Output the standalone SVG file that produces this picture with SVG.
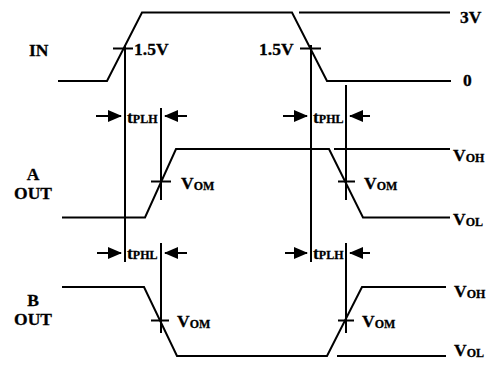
<svg xmlns="http://www.w3.org/2000/svg" width="494" height="365" viewBox="0 0 494 365">
<style>
.w{fill:none;stroke:#000;stroke-width:2;stroke-linejoin:miter}
.m{fill:none;stroke:#000;stroke-width:2}
.a{fill:none;stroke:#000;stroke-width:2;marker-end:url(#ah)}
text{font-family:"Liberation Serif","Times New Roman",serif;font-weight:bold;font-size:17.5px;fill:#000;stroke:#000;stroke-width:0.3}
.s{font-size:12px}
</style>
<defs>
<marker id="ah" markerUnits="userSpaceOnUse" markerWidth="14" markerHeight="12" refX="13" refY="6" orient="auto">
<path d="M0,0 L14,6 L0,12 Z" fill="#000"/>
</marker>
</defs>
<rect width="494" height="365" fill="#fff"/>
<g id="waveform-in">
<polyline class="w" points="58,81 107,81 142,12.5 292,12.5 327,81 451,81"/>
<line class="w" x1="299" y1="12.5" x2="450" y2="12.5"/>
</g>
<g id="waveform-a">
<polyline class="w" points="62,217.5 145,217.5 176,149 329,149 363,217.5 450,217.5"/>
<line class="w" x1="334" y1="149" x2="450" y2="149"/>
</g>
<g id="waveform-b">
<polyline class="w" points="62,287 144,287 177,356 327,356 362,287 446,287"/>
<line class="w" x1="337" y1="356" x2="446" y2="356"/>
</g>
<g id="connectors">
<line class="m" x1="125" y1="45" x2="125" y2="262"/>
<line class="m" x1="161" y1="108" x2="161" y2="200"/>
<line class="m" x1="161" y1="243" x2="161" y2="333"/>
<line class="m" x1="311" y1="45" x2="311" y2="262"/>
<line class="m" x1="346" y1="85" x2="346" y2="200"/>
<line class="m" x1="346" y1="243" x2="346" y2="333"/>
<line class="m" x1="113" y1="48.5" x2="133" y2="48.5"/>
<line class="m" x1="300" y1="48.5" x2="321" y2="48.5"/>
<line class="m" x1="151" y1="181.5" x2="171" y2="181.5"/>
<line class="m" x1="338" y1="181.5" x2="355" y2="181.5"/>
<line class="m" x1="151" y1="320.5" x2="169" y2="320.5"/>
<line class="m" x1="338" y1="320.5" x2="354" y2="320.5"/>
<line class="a" x1="96" y1="116" x2="121" y2="116"/>
<line class="a" x1="187" y1="116" x2="165" y2="116"/>
<line class="a" x1="283" y1="116" x2="307" y2="116"/>
<line class="a" x1="370" y1="116" x2="350" y2="116"/>
<line class="a" x1="97" y1="253" x2="121" y2="253"/>
<line class="a" x1="187" y1="253" x2="165" y2="253"/>
<line class="a" x1="285" y1="253" x2="307" y2="253"/>
<line class="a" x1="370" y1="253" x2="350" y2="253"/>
</g>
<g id="labels">
<text x="29" y="56">IN</text>
<text x="134" y="55">1.5V</text>
<text x="259" y="55">1.5V</text>
<text x="460" y="23">3V</text>
<text x="463" y="86">0</text>
<text x="127" y="123">t<tspan class="s">PLH</tspan></text>
<text x="313" y="123">t<tspan class="s">PHL</tspan></text>
<text x="127" y="259">t<tspan class="s">PHL</tspan></text>
<text x="313" y="259">t<tspan class="s">PLH</tspan></text>
<text x="33" y="180" text-anchor="middle">A</text>
<text x="33" y="199" text-anchor="middle">OUT</text>
<text x="33" y="306" text-anchor="middle">B</text>
<text x="33" y="325" text-anchor="middle">OUT</text>
<text x="181" y="189">V<tspan class="s" dy="1">OM</tspan></text>
<text x="364" y="189">V<tspan class="s" dy="1">OM</tspan></text>
<text x="177" y="327">V<tspan class="s" dy="1">OM</tspan></text>
<text x="362" y="327">V<tspan class="s" dy="1">OM</tspan></text>
<text x="453" y="161">V<tspan class="s" dy="1">OH</tspan></text>
<text x="453" y="225">V<tspan class="s" dy="1">OL</tspan></text>
<text x="454" y="297">V<tspan class="s" dy="1">OH</tspan></text>
<text x="454" y="356">V<tspan class="s" dy="1">OL</tspan></text>
</g>
</svg>
